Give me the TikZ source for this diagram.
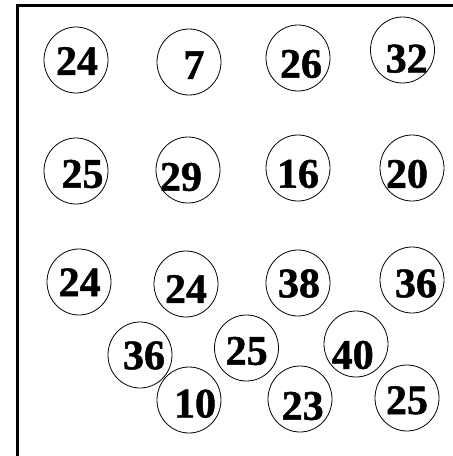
\documentclass[tikz,border=0pt]{standalone}
\usepackage{fontspec}
\usetikzlibrary{shapes.geometric}
\setmainfont{Liberation Serif}
\newfontfamily\numfont{Liberation Serif Bold}[FakeBold=1.2]
\begin{document}
\begin{tikzpicture}[x=1pt,y=-1pt,
  ball/.style={draw=black,line width=0.8pt,ellipse,minimum width=64pt,minimum height=66pt,inner sep=0pt},
  num/.style={font=\fontsize{42}{42}\selectfont\numfont,inner sep=0pt}]
\useasboundingbox (0,0) rectangle (453,456);
\draw[line width=2.5pt] (17.5,456) -- (17.5,5.5) -- (453,5.5);
% circles
\node[ball] (c1) at (76,60) {};
\node[ball] (c2) at (189,62) {};
\node[ball] (c3) at (298,58) {};
\node[ball] (c4) at (402.5,50) {};
\node[ball] (c5) at (76,171) {};
\node[ball] (c6) at (188,170) {};
\node[ball] (c7) at (298,168) {};
\node[ball] (c8) at (412,168) {};
\node[ball] (c9) at (79,282) {};
\node[ball] (c10) at (186,284) {};
\node[ball] (c11) at (298,283) {};
\node[ball] (c12) at (412,280) {};
\node[ball] (c13) at (140,355) {};
\node[ball] (c14) at (246.5,348) {};
\node[ball] (c15) at (356,344) {};
\node[ball] (c16) at (189,400) {};
\node[ball] (c17) at (300,399) {};
\node[ball] (c18) at (407,398) {};
% numbers
\node[num] (t1) at (77,61) {24};
\node[num] (t2) at (194,65) {7};
\node[num] (t3) at (301,64) {26};
\node[num] (t4) at (406.7,58.7) {32};
\node[num] (t5) at (82.5,174) {25};
\node[num] (t6) at (181,177) {29};
\node[num] (t7) at (298,174) {16};
\node[num] (t8) at (407,174) {20};
\node[num] (t9) at (79.7,282.3) {24};
\node[num] (t10) at (186,289) {24};
\node[num] (t11) at (299,283.5) {38};
\node[num] (t12) at (416,283.5) {36};
\node[num] (t13) at (144,355.5) {36};
\node[num] (t14) at (246.7,351) {25};
\node[num] (t15) at (352.7,355) {40};
\node[num] (t16) at (195,403.7) {10};
\node[num] (t17) at (302.7,406) {23};
\node[num] (t18) at (407,400.3) {25};
\end{tikzpicture}
\end{document}
